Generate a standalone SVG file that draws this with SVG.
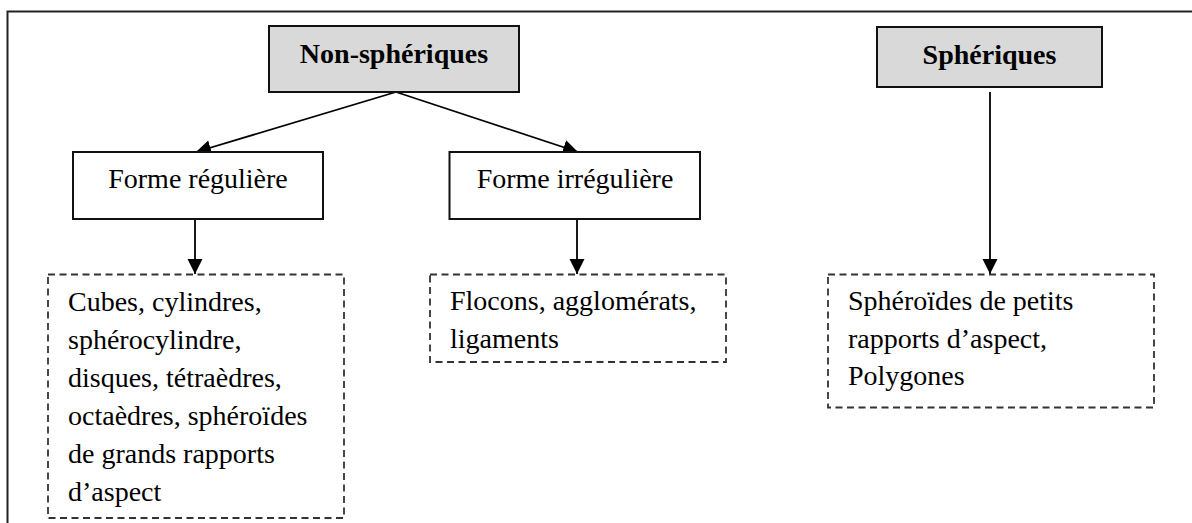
<svg xmlns="http://www.w3.org/2000/svg" width="1192" height="523" viewBox="0 0 1192 523">
<defs>
<style>
.t{font-family:"Liberation Serif","Times New Roman",serif;font-size:28px;fill:#000}
.b{font-weight:bold;text-anchor:middle}
.m{text-anchor:middle}
.head{fill:#d9d9d9;stroke:#111;stroke-width:2}
.solid{fill:#fff;stroke:#111;stroke-width:2}
.dash{fill:#fff;stroke:#333;stroke-width:1.8;stroke-dasharray:7 4.5}
.c{stroke:#000;stroke-width:1.8;fill:none;marker-end:url(#arr)}
</style>
<marker id="arr" markerUnits="userSpaceOnUse" markerWidth="16" markerHeight="16" refX="15" refY="7.5" orient="auto">
<path d="M0,0 L15,7.5 L0,15 z" fill="#000"/>
</marker>
</defs>
<rect width="1192" height="523" fill="#fff"/>
<rect id="frame" x="7.5" y="11.5" width="1200" height="600" fill="none" stroke="#222" stroke-width="2"/>
<g id="connectors">
<line class="c" x1="396" y1="92" x2="196" y2="152"/>
<line class="c" x1="396" y1="92" x2="578" y2="152"/>
<line class="c" x1="195" y1="219" x2="195" y2="274"/>
<line class="c" x1="577" y1="219" x2="577" y2="274"/>
<line class="c" x1="990" y1="92" x2="990" y2="274"/>
</g>
<g id="nonspheriques">
<rect class="head" x="269" y="26" width="250" height="66"/>
<text class="t b" x="394" y="63">Non-sphériques</text>
</g>
<g id="spheriques">
<rect class="head" x="877" y="27" width="225" height="60"/>
<text class="t b" x="989.5" y="64">Sphériques</text>
</g>
<g id="forme-reguliere">
<rect class="solid" x="73" y="152" width="250" height="67"/>
<text class="t m" x="198" y="188">Forme régulière</text>
</g>
<g id="forme-irreguliere">
<rect class="solid" x="449.5" y="152" width="250.5" height="67"/>
<text class="t m" x="575" y="188">Forme irrégulière</text>
</g>
<g id="liste-reguliere">
<rect class="dash" x="48" y="274.5" width="296" height="243.5"/>
<text class="t" x="68" y="311">Cubes, cylindres,</text>
<text class="t" x="68" y="349">sphérocylindre,</text>
<text class="t" x="68" y="386.5">disques, tétraèdres,</text>
<text class="t" x="68" y="424.5">octaèdres, sphéroïdes</text>
<text class="t" x="68" y="462.5">de grands rapports</text>
<text class="t" x="68" y="500.5">d’aspect</text>
</g>
<g id="liste-irreguliere">
<rect class="dash" x="430" y="274.5" width="296" height="87.5"/>
<text class="t" x="450" y="310">Flocons, agglomérats,</text>
<text class="t" x="450" y="347.5">ligaments</text>
</g>
<g id="liste-spheriques">
<rect class="dash" x="828" y="274.5" width="326" height="133"/>
<text class="t" x="848" y="310">Sphéroïdes de petits</text>
<text class="t" x="848" y="348">rapports d’aspect,</text>
<text class="t" x="848" y="385">Polygones</text>
</g>
</svg>
